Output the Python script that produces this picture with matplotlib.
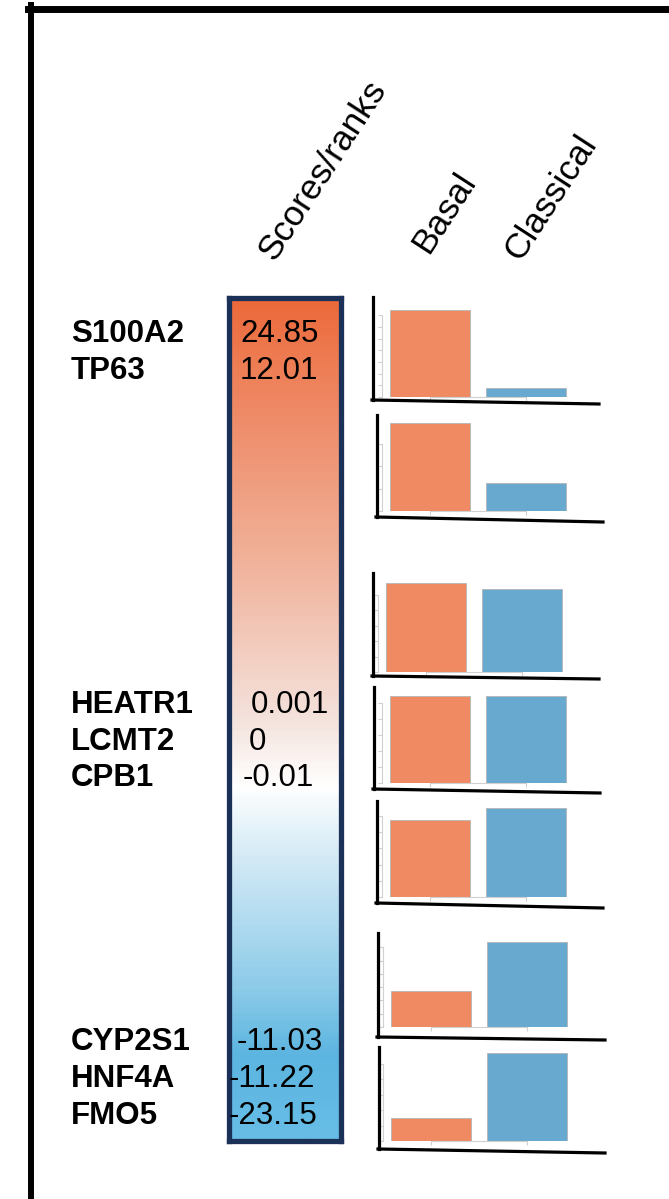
import matplotlib
matplotlib.use('Agg')
import matplotlib.pyplot as plt
import numpy as np
from matplotlib.colors import LinearSegmentedColormap
from matplotlib.lines import Line2D

# data
genes = ['S100A2', 'TP63', 'HEATR1', 'LCMT2', 'CPB1', 'CYP2S1', 'HNF4A', 'FMO5']
scores = ['24.85', '12.01', '0.001', '0', '-0.01', '-11.03', '-11.22', '-23.15']
columns = ['Scores/ranks', 'Basal', 'Classical']
basal = [7.4, 3.9, 5.8, 5.45, 4.75, 2.7, 1.5]
classical = [0.75, 1.25, 5.4, 5.45, 5.5, 6.4, 5.7]
tick_max = [7, 3, 5, 5, 5, 6, 5]

W, H = 669, 1199
plt.rcParams['font.family'] = ['Liberation Sans', 'DejaVu Sans']
fig = plt.figure(figsize=(W / 100, H / 100), dpi=100)


def fx(x):
    return x / W


def fy(y):
    return 1 - y / H


# outer frame (left + top)
fig.add_artist(Line2D([fx(31), fx(31)], [fy(5), fy(H)], color='k', lw=4.3))
fig.add_artist(Line2D([fx(28), fx(W)], [fy(8.5), fy(8.5)], color='k', lw=5))

# column headers
hdr_pos = [(274, 262), (428, 255), (520, 262)]
for name, (x, y) in zip(columns, hdr_pos):
    fig.text(fx(x), fy(y), name, fontsize=25.5, rotation=57, rotation_mode='anchor',
             ha='left', va='baseline')

# gradient box
cmap = LinearSegmentedColormap.from_list('sc', [
    (0.0, '#ec6a3a'), (0.11, '#ee8560'), (0.31, '#f1b29a'), (0.50, '#f4e2dc'),
    (0.58, '#ffffff'), (0.66, '#d6ebf6'), (0.82, '#8dcbe9'), (0.90, '#5cb5e0'),
    (1.0, '#67bde6')])
cax = fig.add_axes([fx(229), fy(1141), (341 - 229) / W, (1141 - 298) / H])
cax.imshow(np.linspace(0, 1, 400)[:, None], aspect='auto', cmap=cmap)
cax.set_xticks([])
cax.set_yticks([])
for sp in cax.spines.values():
    sp.set_color('#1c3158')
    sp.set_linewidth(3.8)

# gene names and scores
base_y = [342, 379, 713, 750, 786, 1050, 1087, 1124]
score_x = [240, 240, 251, 249, 243, 237, 229, 229]
for g, s, y, sx in zip(genes, scores, base_y, score_x):
    fig.text(fx(71), fy(y), g, fontsize=22.5, fontweight='bold', va='baseline')
    fig.text(fx(sx), fy(y), s, fontsize=22.5, va='baseline', zorder=5)

# small bar charts: baseline, tick step, black axis x, top, bottom, x-axis end
layout = [
    (397, 11.7, 373, 297, 400, 599, 404, 390),
    (511, 22.5, 377, 415, 517, 603, 522, 390),
    (672, 15.4, 373, 573, 676, 599, 679, 386),
    (783, 16.0, 374, 687, 789, 600, 793, 390),
    (897, 16.2, 377, 801, 903, 603, 908, 390),
    (1027, 13.3, 378, 933, 1037, 605, 1040, 391),
    (1141, 15.4, 379, 1047, 1149, 605, 1153, 391),
]
for i, (yb, step, bx, btop, bbot, xe, ye, ol) in enumerate(layout):
    gx = ol - 8
    h = yb - (btop + 4)
    ax = fig.add_axes([fx(gx), fy(yb), 220 / W, h / H])
    ax.bar([0, 1], [basal[i], classical[i]], width=0.833,
           color=['#ef8a62', '#67a9cf'], edgecolor='#b5b5b5', linewidth=0.6)
    ax.set_xlim(-0.5, -0.5 + 220 / 96)
    ax.set_ylim(0, h / step)
    ax.patch.set_visible(False)
    for k in ['top', 'right']:
        ax.spines[k].set_visible(False)
    for k in ['left', 'bottom']:
        ax.spines[k].set_color('#d0d0d0')
        ax.spines[k].set_linewidth(0.8)
    ax.spines['left'].set_bounds(0, tick_max[i])
    ax.spines['bottom'].set_bounds(0, 1)
    ax.set_xticks([0, 1])
    ax.set_yticks(range(tick_max[i] + 1))
    ax.set_xticklabels([])
    ax.set_yticklabels([])
    ax.tick_params(length=3, color='#d0d0d0', width=0.8)
    # hand drawn black axes
    fig.add_artist(Line2D([fx(bx), fx(bx)], [fy(btop), fy(bbot)], color='k', lw=2.3))
    fig.add_artist(Line2D([fx(bx - 1), fx(xe)], [fy(bbot), fy(ye)], color='k', lw=2.3))

fig.savefig('out.png', dpi=100)
